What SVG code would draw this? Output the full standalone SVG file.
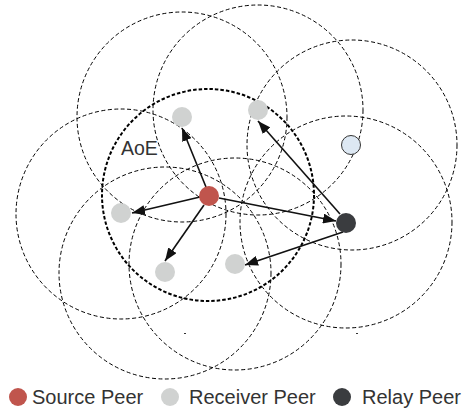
<svg xmlns="http://www.w3.org/2000/svg" width="464" height="412" viewBox="0 0 464 412">
<style>
.range{fill:none;stroke:#000;stroke-width:1;stroke-dasharray:4 2.5}
.aoe{fill:none;stroke:#000;stroke-width:2;stroke-dasharray:3.5 2}
.src{fill:#c0554d}
.rcv{fill:#d0d2d1}
.rly{fill:#3a3c3f}
.oth{fill:#dde8f3;stroke:#333;stroke-width:1}
.edge{stroke:#111;stroke-width:1.6;fill:none;marker-end:url(#ah)}
.lbl{font-family:"Liberation Sans",Arial,sans-serif;fill:#333}
</style>
<defs>
<marker id="ah" viewBox="0 0 13 10" refX="13" refY="5" markerWidth="13" markerHeight="10" markerUnits="userSpaceOnUse" orient="auto">
<path d="M0,0 L13,5 L0,10 z" fill="#111"/>
</marker>
</defs>
<rect width="464" height="412" fill="#fff"/>
<g id="ranges">
<circle class="range" cx="182" cy="117" r="105"/>
<circle class="range" cx="258" cy="110" r="105"/>
<circle class="range" cx="352" cy="145" r="105"/>
<circle class="range" cx="121" cy="214" r="105"/>
<circle class="range" cx="165" cy="273" r="106"/>
<circle class="range" cx="235" cy="264" r="106"/>
<circle class="range" cx="346" cy="222" r="106"/>
</g>
<g id="aoe">
<circle class="aoe" cx="208" cy="195" r="106"/>
<text class="lbl" x="121" y="155" font-size="19.5">AoE</text>
</g>
<g id="connectors">
<line class="edge" x1="206" y1="187" x2="182" y2="128"/>
<line class="edge" x1="200" y1="197" x2="132" y2="213"/>
<line class="edge" x1="204" y1="205" x2="165" y2="261"/>
<line class="edge" x1="219" y1="198" x2="336" y2="221"/>
<line class="edge" x1="340" y1="214" x2="258" y2="121"/>
<line class="edge" x1="343" y1="232" x2="245" y2="265"/>
</g>
<g id="node-source"><circle class="src" cx="209" cy="196" r="10"/></g>
<g id="node-r1"><circle class="rcv" cx="182" cy="117" r="10"/></g>
<g id="node-r2"><circle class="rcv" cx="258" cy="110" r="10"/></g>
<g id="node-r3"><circle class="rcv" cx="121" cy="213" r="10"/></g>
<g id="node-r4"><circle class="rcv" cx="165" cy="272" r="10"/></g>
<g id="node-r5"><circle class="rcv" cx="235" cy="264" r="10"/></g>
<g id="node-other"><circle class="oth" cx="351" cy="145" r="9.5"/></g>
<g id="node-relay"><circle class="rly" cx="346" cy="223" r="10"/></g>
<g id="marks" stroke="#333" stroke-width="1">
<line x1="184" y1="333.5" x2="186" y2="333.5"/>
<line x1="356" y1="333.5" x2="358" y2="333.5"/>
</g>
<g id="legend">
<circle class="src" cx="18" cy="397" r="9"/>
<text class="lbl" x="32" y="404" font-size="20">Source Peer</text>
<circle class="rcv" cx="170" cy="397" r="9"/>
<text class="lbl" x="189" y="404" font-size="20">Receiver Peer</text>
<circle class="rly" cx="342" cy="397" r="9"/>
<text class="lbl" x="362" y="404" font-size="20">Relay Peer</text>
</g>
</svg>
